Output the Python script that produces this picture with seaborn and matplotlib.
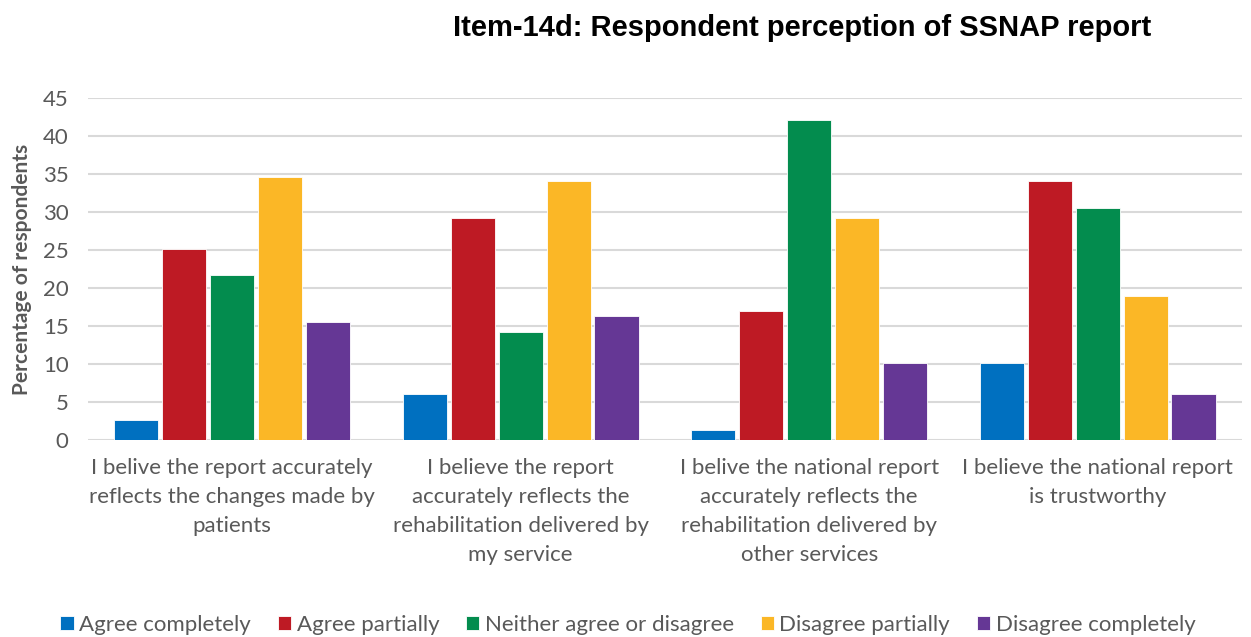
import matplotlib
matplotlib.use("Agg")
import matplotlib.pyplot as plt
import seaborn as sns
import pandas as pd

categories = [
    "I belive the report accurately\nreflects the changes made by\npatients",
    "I believe the report\naccurately reflects the\nrehabilitation delivered by\nmy service",
    "I belive the national report\naccurately reflects the\nrehabilitation delivered by\nother services",
    "I believe the national report\nis trustworthy",
]
responses = ["Agree completely", "Agree partially", "Neither agree or disagree",
             "Disagree partially", "Disagree completely"]
agree_completely = [2.6, 6.1, 1.3, 10.1]
agree_partially = [25.1, 29.2, 17.0, 34.1]
neither = [21.7, 14.3, 42.2, 30.5]
disagree_partially = [34.7, 34.1, 29.2, 19.0]
disagree_completely = [15.6, 16.3, 10.1, 6.1]
colors = ["#0070C0", "#BE1A24", "#038C4E", "#FBB726", "#653795"]

series = [agree_completely, agree_partially, neither, disagree_partially, disagree_completely]
rows = []
for resp, vals in zip(responses, series):
    for cat, v in zip(categories, vals):
        rows.append({"category": cat, "response": resp, "value": v})
df = pd.DataFrame(rows)

sns.set_theme(style="white")
plt.rcParams['font.family'] = ['Lato', 'DejaVu Sans']

fig = plt.figure(figsize=(12.51, 6.37), dpi=100)
ax = fig.add_axes([0.0703, 0.309, 0.9225, 0.5367])

sns.barplot(data=df, x="category", y="value", hue="response", order=categories,
            hue_order=responses, palette=colors, saturation=1, width=0.83, gap=0.08,
            edgecolor="white", linewidth=0.6, ax=ax, legend=True)

ax.set_ylim(0, 45)
ax.set_xlim(-0.5, 3.5)
ax.set_yticks(range(0, 46, 5))
ax.yaxis.grid(True, color="#d9d9d9", linewidth=1.5)
ax.set_axisbelow(True)
for s in ax.spines.values():
    s.set_visible(False)
ax.tick_params(axis="y", labelsize=16, colors="#595959", length=0, pad=14)
ax.tick_params(axis="x", labelsize=16, colors="#595959", length=0, pad=13)
for lbl in ax.get_xticklabels():
    lbl.set_linespacing(1.55)
ax.set_xlabel("")
ax.set_ylabel("Percentage of respondents", fontsize=15, fontweight="bold",
              color="#595959", labelpad=8)

leg = ax.legend(loc="center", bbox_to_anchor=(0.5 - 0.0703 / 2 + 0.003, (1 - 625 / 637 - 0.309) / 0.5367),
                bbox_transform=ax.transAxes, ncol=5, frameon=False,
                fontsize=16, handlelength=0.6, handleheight=0.6,
                handletextpad=0.25, columnspacing=1.2)
for t in leg.get_texts():
    t.set_color("#595959")

fig.text(0.641, 0.956, "Item-14d: Respondent perception of SSNAP report",
         ha="center", va="center", fontsize=21, fontweight="bold",
         family=["Liberation Sans", "DejaVu Sans"], color="black")

fig.savefig("out.png", dpi=100)
